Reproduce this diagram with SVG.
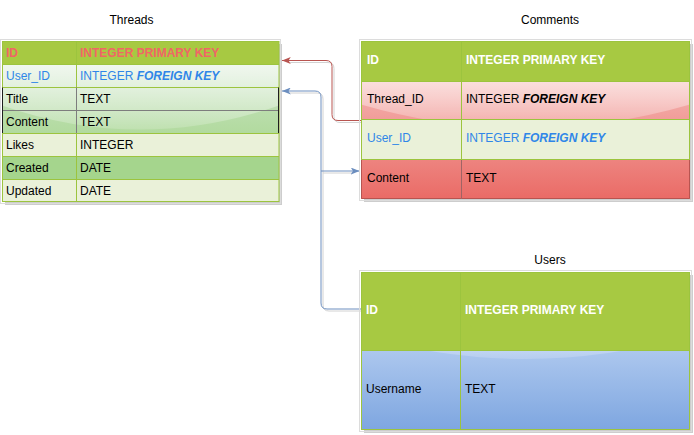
<svg xmlns="http://www.w3.org/2000/svg" width="694" height="435" viewBox="0 0 694 435">
<defs>
<style>
text{font-family:"Liberation Sans",Arial,sans-serif;font-size:12px;fill:#000}
.hd{font-weight:bold}
.w{fill:#fff}
.r{fill:#f06666}
.b{fill:#2f86e8}
.bi{font-weight:bold;font-style:italic}
.ttl{text-anchor:middle}
.grid{stroke:#9cc43e;stroke-width:1;fill:none}
.shadow{fill:#cdcdcd}
.frame{fill:none;stroke:#dcdcdc;stroke-width:1}
.hdr{fill:#a7c942}
.light{fill:#eaf1d9}
.conn{fill:none;stroke-width:1}
.sh{fill:none;stroke:#d2d2d2;stroke-width:1}
</style>
<linearGradient id="gGreen" gradientUnits="userSpaceOnUse" x1="0" y1="41" x2="0" y2="202">
<stop offset="0" stop-color="#d5e8d4"/><stop offset="1" stop-color="#97d077"/>
</linearGradient>
<linearGradient id="gRed" gradientUnits="userSpaceOnUse" x1="0" y1="41" x2="0" y2="199">
<stop offset="0" stop-color="#f8cecc"/><stop offset="1" stop-color="#ea6b66"/>
</linearGradient>
<linearGradient id="gBlue" gradientUnits="userSpaceOnUse" x1="0" y1="272" x2="0" y2="430">
<stop offset="0" stop-color="#dae8fc"/><stop offset="1" stop-color="#7ea6e0"/>
</linearGradient>
<linearGradient id="glassT" gradientUnits="userSpaceOnUse" x1="0" y1="41" x2="0" y2="137.6">
<stop offset="0" stop-color="#fff" stop-opacity="0.9"/><stop offset="1" stop-color="#fff" stop-opacity="0.1"/>
</linearGradient>
<linearGradient id="glassC" gradientUnits="userSpaceOnUse" x1="0" y1="41" x2="0" y2="136.4">
<stop offset="0" stop-color="#fff" stop-opacity="0.9"/><stop offset="1" stop-color="#fff" stop-opacity="0.1"/>
</linearGradient>
<linearGradient id="glassU" gradientUnits="userSpaceOnUse" x1="0" y1="272" x2="0" y2="366.8">
<stop offset="0" stop-color="#fff" stop-opacity="0.9"/><stop offset="1" stop-color="#fff" stop-opacity="0.1"/>
</linearGradient>
<marker id="arrR" viewBox="0 0 10 8" refX="10" refY="4" markerWidth="9" markerHeight="7" markerUnits="userSpaceOnUse" orient="auto">
<path d="M0,0 L10,4 L0,8 L2.5,4 Z" fill="#b85450"/>
</marker>
<marker id="arrB" viewBox="0 0 10 8" refX="10" refY="4" markerWidth="9" markerHeight="7" markerUnits="userSpaceOnUse" orient="auto">
<path d="M0,0 L10,4 L0,8 L2.5,4 Z" fill="#6c8ebf"/>
</marker>
</defs>
<rect width="694" height="435" fill="#fff"/>

<g id="connectors">
<path class="sh" d="M363,122.5 H340 Q334,122.5 334,116.5 V68.5 Q334,62.5 328,62.5 H290"/>
<path class="sh" d="M363,311 H329 Q323,311 323,305 V99 Q323,93 317,93 H290"/>
<path class="sh" d="M323,173 H352"/>
<path class="conn" stroke="#b85450" marker-end="url(#arrR)" d="M361,120.5 H338 Q332,120.5 332,114.5 V66.5 Q332,60.5 326,60.5 H282"/>
<path class="conn" stroke="#6c8ebf" marker-end="url(#arrB)" d="M361,309 H327 Q321,309 321,303 V97 Q321,91 315,91 H282"/>
<path class="conn" stroke="#6c8ebf" marker-end="url(#arrB)" d="M321,171 H359.5"/>
</g>

<g id="threads">
<text class="ttl" x="131.5" y="23.5">Threads</text>
<rect class="shadow" x="5" y="44" width="277" height="161"/>
<rect class="frame" x="0.5" y="39.5" width="280" height="164"/>
<rect x="2" y="41" width="277" height="161" fill="url(#gGreen)"/>
<path d="M2,41 L279,41 L279,105.4 Q140.5,153.7 2,105.4 Z" fill="url(#glassT)"/>
<rect class="hdr" x="2" y="41" width="277" height="23"/>
<rect class="light" x="2" y="133" width="277" height="23"/>
<rect x="2" y="156" width="277" height="23" fill="#a5d58d"/>
<rect class="light" x="2" y="179" width="277" height="23"/>
<rect class="grid" x="2.5" y="41.5" width="276.5" height="160"/>
<path class="grid" d="M2,64.5 H279 M2,87.5 H279 M2,133.5 H279 M2,156.5 H279 M2,179.5 H279 M76.5,41 V87 M76.5,133 V202"/>
<path d="M2,110.5 H279 M76.5,87.5 V133" stroke="#7d7d7d" fill="none"/>
<path d="M2.5,87.5 V133 M278.5,87.5 V133" stroke="#1e1e1e" fill="none"/>
<text class="hd r" x="6" y="56.5">ID</text>
<text class="hd r" x="80" y="56.5">INTEGER PRIMARY KEY</text>
<text class="b" x="6" y="79.5">User_ID</text>
<text class="b" x="80" y="79.5">INTEGER <tspan class="bi">FOREIGN KEY</tspan></text>
<text x="6" y="102.5">Title</text>
<text x="80" y="102.5">TEXT</text>
<text x="6" y="125.5">Content</text>
<text x="80" y="125.5">TEXT</text>
<text x="6" y="148.5">Likes</text>
<text x="80" y="148.5">INTEGER</text>
<text x="6" y="171.5">Created</text>
<text x="80" y="171.5">DATE</text>
<text x="6" y="194.5">Updated</text>
<text x="80" y="194.5">DATE</text>
</g>

<g id="comments">
<text class="ttl" x="550" y="23.5">Comments</text>
<rect class="shadow" x="364" y="44" width="329" height="158"/>
<rect class="frame" x="359.5" y="39.5" width="332" height="161"/>
<rect x="361" y="41" width="329" height="158" fill="url(#gRed)"/>
<path d="M361,41 L690,41 L690,104.6 Q525.5,152.3 361,104.6 Z" fill="url(#glassC)"/>
<rect class="hdr" x="361" y="41" width="329" height="40"/>
<rect class="light" x="361" y="119" width="329" height="40"/>
<path d="M361.5,159 V198.5 H689.5 V159" stroke="#b85450" fill="none"/>
<path d="M461.5,159 V199" stroke="#a06464" fill="none"/>
<path class="grid" d="M361.5,41.5 H689.5 V159 M361.5,41.5 V159 M361,81.5 H690 M361,119.5 H690 M361,159.5 H690 M461.5,41 V159"/>
<text class="hd w" x="367" y="64">ID</text>
<text class="hd w" x="466" y="64">INTEGER PRIMARY KEY</text>
<text x="367" y="103">Thread_ID</text>
<text x="466" y="103">INTEGER <tspan class="bi">FOREIGN KEY</tspan></text>
<text class="b" x="367" y="142">User_ID</text>
<text class="b" x="466" y="142">INTEGER <tspan class="bi">FOREIGN KEY</tspan></text>
<text x="367" y="182">Content</text>
<text x="466" y="182">TEXT</text>
</g>

<g id="users">
<text class="ttl" x="550" y="264">Users</text>
<rect class="shadow" x="364" y="275" width="329" height="158"/>
<rect class="frame" x="359.5" y="270.5" width="332" height="161"/>
<rect x="361" y="272" width="329" height="158" fill="url(#gBlue)"/>
<path d="M361,272 L690,272 L690,335.2 Q525.5,382.6 361,335.2 Z" fill="url(#glassU)"/>
<rect class="hdr" x="361" y="272" width="329" height="78"/>
<rect class="grid" x="361.5" y="272.5" width="328" height="157"/>
<path class="grid" d="M361,350.5 H690 M460.5,272 V430"/>
<text class="hd w" x="366" y="314">ID</text>
<text class="hd w" x="465" y="314">INTEGER PRIMARY KEY</text>
<text x="366" y="393">Username</text>
<text x="465" y="393">TEXT</text>
</g>
</svg>
